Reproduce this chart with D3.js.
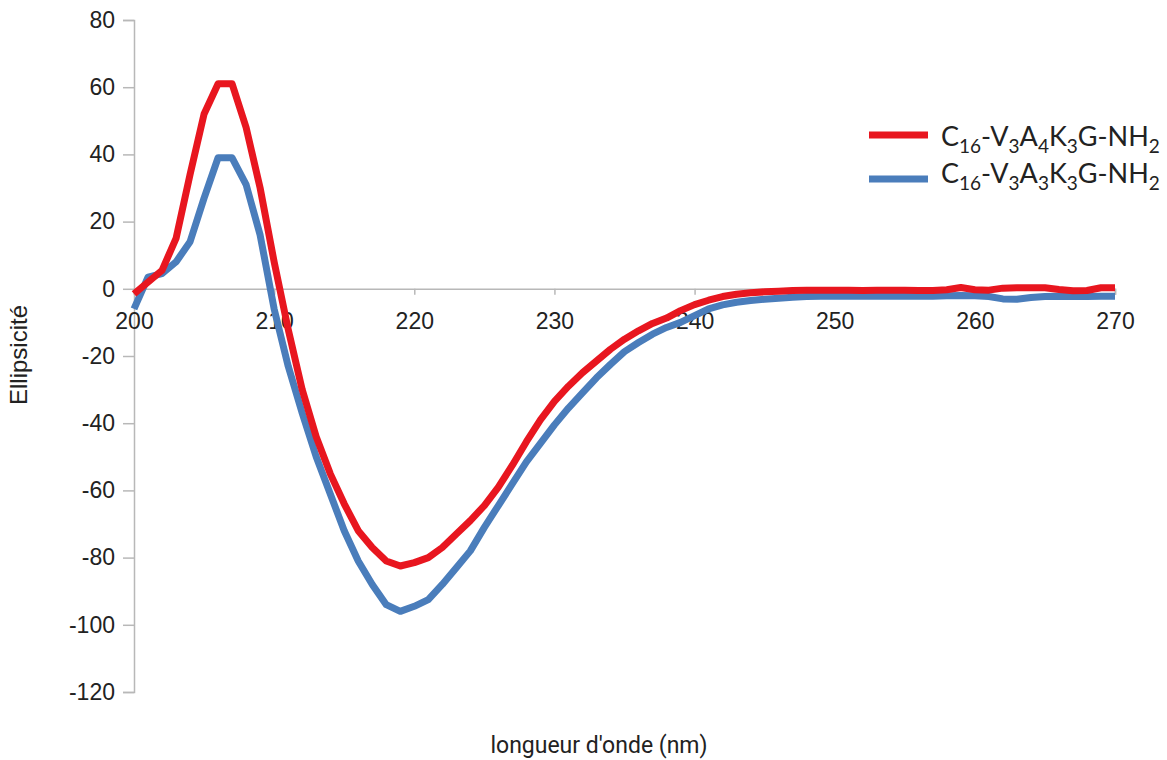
<!DOCTYPE html>
<html>
<head>
<meta charset="utf-8">
<script src="https://cdn.jsdelivr.net/npm/d3@7/dist/d3.min.js"></script>
<style>
  html, body { margin: 0; padding: 0; background: #fff; }
  svg { display: block; }
</style>
</head>
<body>
<svg id="chart" width="1167" height="760"></svg>
<script>
// ---- data ----
const wavelengths = d3.range(200, 271, 1);
const seriesNames = ["C16-V3A4K3G-NH2", "C16-V3A3K3G-NH2"];
const seriesColors = ["#e8161f", "#4a7dbb"];
const redValues = [
  -1.5, 2, 5.5, 15, 34, 52, 61, 61, 48, 30,
  8, -12, -30, -44, -55, -64, -72, -77, -81, -82.5,
  -81.5, -80, -77, -73, -69, -64.5, -59, -52.5, -45.5, -39,
  -33.5, -29, -25, -21.5, -18, -15, -12.5, -10.3, -8.7, -6.5,
  -4.7, -3.4, -2.3, -1.6, -1.2, -0.9, -0.7, -0.5, -0.4, -0.4,
  -0.4, -0.4, -0.5, -0.4, -0.4, -0.4, -0.5, -0.5, -0.3, 0.4,
  -0.3, -0.4, 0.2, 0.3, 0.3, 0.3, -0.2, -0.6, -0.5, 0.3,
  0.3
];
const blueValues = [
  -6, 3.5, 4.5, 8, 14, 27, 39, 39, 31, 16,
  -6, -23, -37, -50, -61, -72, -81, -88, -94, -96,
  -94.5, -92.5, -88, -83, -78, -71, -64.5, -58, -51.5, -46,
  -40.5, -35.5, -31, -26.5, -22.5, -18.7, -16, -13.5, -11.5, -10,
  -8, -6, -4.8, -4, -3.5, -3.1, -2.8, -2.5, -2.3, -2.2,
  -2.2, -2.2, -2.2, -2.2, -2.2, -2.2, -2.2, -2.2, -2.1, -2.0,
  -2.1, -2.3, -3.0, -3.1, -2.6, -2.3, -2.2, -2.3, -2.3, -2.2,
  -2.2
];
const xTicks = [200, 210, 220, 230, 240, 250, 260, 270];
const yTicks = [80, 60, 40, 20, 0, -20, -40, -60, -80, -100, -120];
const xTitle = "longueur d'onde (nm)";
const yTitle = "Ellipsicité";

// ---- layout ----
const svg = d3.select("#chart");
const x = d3.scaleLinear().domain([200, 270]).range([134, 1115]);
const y = d3.scaleLinear().domain([-120, 80]).range([692, 20]);
const axisColor = "#b8b8b8";
const textColor = "#222";
const fmt = d => String(d);

// y axis
const gy = svg.append("g")
  .attr("transform", `translate(${x(200)},0)`)
  .call(d3.axisLeft(y).tickValues(yTicks).tickSize(11).tickPadding(8).tickFormat(fmt));
gy.select(".domain").attr("stroke", axisColor).attr("stroke-width", 1.5);
gy.selectAll(".tick line").attr("stroke", axisColor).attr("stroke-width", 1.5);
gy.selectAll(".tick text")
  .attr("fill", textColor)
  .style("font-family", "'Liberation Sans', Arial, sans-serif")
  .style("font-size", "23px");

// x axis at y = 0
const gx = svg.append("g")
  .attr("transform", `translate(0,${y(0)})`)
  .call(d3.axisBottom(x).tickValues(xTicks).tickSize(6).tickPadding(18).tickFormat(fmt));
gx.select(".domain").attr("stroke", axisColor).attr("stroke-width", 1.5);
gx.selectAll(".tick line").attr("stroke", axisColor).attr("stroke-width", 1.5);
gx.selectAll(".tick text")
  .attr("fill", textColor)
  .style("font-family", "'Liberation Sans', Arial, sans-serif")
  .style("font-size", "23px");

// axis titles
svg.append("text")
  .attr("x", 599).attr("y", 753)
  .attr("text-anchor", "middle")
  .attr("fill", textColor)
  .style("font-family", "Roboto, 'Liberation Sans', sans-serif")
  .style("font-size", "23px")
  .text(xTitle);

svg.append("text")
  .attr("transform", "translate(27,355) rotate(-90)")
  .attr("text-anchor", "middle")
  .attr("fill", textColor)
  .style("font-family", "'Liberation Sans', Arial, sans-serif")
  .style("font-size", "24px")
  .text(yTitle);

// lines
const line = d3.line()
  .x((d, i) => x(wavelengths[i]))
  .y(d => y(d));

const seriesValues = [redValues, blueValues];
[1, 0].forEach(k => {
  svg.append("path")
    .datum(seriesValues[k])
    .attr("fill", "none")
    .attr("stroke", seriesColors[k])
    .attr("stroke-width", 7)
    .attr("stroke-linejoin", "round")
    .attr("stroke-linecap", "butt")
    .attr("d", line);
});

// legend
const legendParts = [
  [["C", 0], ["16", 1], ["-V", 0], ["3", 1], ["A", 0], ["4", 1], ["K", 0], ["3", 1], ["G-NH", 0], ["2", 1]],
  [["C", 0], ["16", 1], ["-V", 0], ["3", 1], ["A", 0], ["3", 1], ["K", 0], ["3", 1], ["G-NH", 0], ["2", 1]]
];
const legendY = [135, 179];
const legendTextY = [146, 183];
legendParts.forEach((parts, k) => {
  svg.append("line")
    .attr("x1", 869).attr("x2", 928)
    .attr("y1", legendY[k]).attr("y2", legendY[k])
    .attr("stroke", seriesColors[k])
    .attr("stroke-width", 7);
  const t = svg.append("text")
    .attr("x", 941).attr("y", legendTextY[k])
    .attr("fill", textColor)
    .style("font-family", "Lato, 'Open Sans', sans-serif")
    .style("font-size", "27px");
  let prevSub = false;
  parts.forEach(([s, sub]) => {
    const ts = t.append("tspan").text(s);
    if (sub && !prevSub) ts.attr("dy", 7).style("font-size", "19px");
    else if (sub) ts.style("font-size", "19px");
    else if (!sub && prevSub) ts.attr("dy", -7);
    prevSub = !!sub;
  });
});
</script>
</body>
</html>
